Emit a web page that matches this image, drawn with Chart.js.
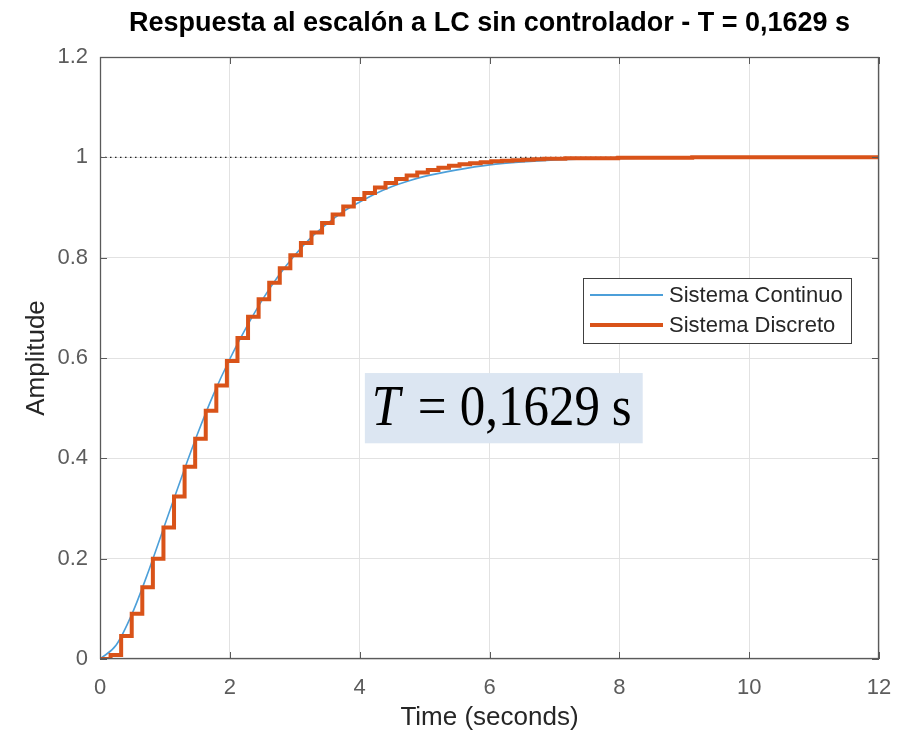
<!DOCTYPE html>
<html><head><meta charset="utf-8">
<script src="https://cdn.jsdelivr.net/npm/chart.js@4.4.1/dist/chart.umd.min.js"></script>
<style>html,body{margin:0;padding:0;background:#fff;}#wrap{width:901px;height:733px;position:relative;}</style>
</head><body><div id="wrap"><canvas id="c" width="901" height="733"></canvas></div>
<script>
const chartTitle = 'Respuesta al escalón a LC sin controlador - T = 0,1629 s';
const xAxisLabel = 'Time (seconds)';
const yAxisLabel = 'Amplitude';
const seriesNames = ['Sistema Continuo', 'Sistema Discreto'];
const annotationParts = ['T', '=', '0,1629', 's'];
const sampleTime = 0.1629;
const endTime = 12;

const contTime = [0,0.25,0.5,0.75,1,1.25,1.5,1.75,2,2.25,2.5,2.75,3,3.25,3.5,3.75,4,4.25,4.5,4.75,5,5.5,6,6.5,7,7.5,8,9,10,11,12];
const contValues = [0,0.028,0.092,0.176,0.268,0.36,0.448,0.528,0.598,0.66,0.716,0.764,0.805,0.84,0.868,0.892,0.911,0.928,0.942,0.953,0.962,0.975,0.985,0.991,0.995,0.997,0.998,0.999,1,1,1];

const discValues = [0,0.008,0.046,0.090,0.143,0.200,0.262,0.324,0.383,0.439,0.495,0.545,0.594,0.640,0.682,0.717,0.750,0.779,0.805,0.829,0.850,0.869,0.886,0.902,0.917,0.929,0.940,0.949,0.957,0.964,0.970,0.975,0.979,0.983,0.986,0.988,0.990,0.992,0.993,0.994,0.995,0.996,0.997,0.997,0.998,0.998,0.998,0.998,0.998,0.999,0.999,0.999,0.999,0.999,0.999,0.999,1,1,1,1,1,1,1,1,1,1,1,1,1,1,1,1,1,1];

const steadyTime = [0, 12];
const steadyValues = [1, 1];

const xTicks = [0,2,4,6,8,10,12];
const xTickLabels = ['0','2','4','6','8','10','12'];
const yTicks = [0,0.2,0.4,0.6,0.8,1,1.2];
const yTickLabels = ['0','0.2','0.4','0.6','0.8','1','1.2'];

const SANS = '"Liberation Sans", Arial, Helvetica, sans-serif';
const SERIF = '"Liberation Serif", "Times New Roman", serif';

const contData = contTime.map((t, i) => ({x: t, y: contValues[i]}));
const discData = discValues.map((v, k) => ({x: k * sampleTime, y: v}));
discData.push({x: endTime, y: discValues[discValues.length - 1]});
const steadyData = steadyTime.map((t, i) => ({x: t, y: steadyValues[i]}));

function labelFor(ticks, labels, v) {
  let best = 0;
  for (let i = 1; i < ticks.length; i++) if (Math.abs(ticks[i] - v) < Math.abs(ticks[best] - v)) best = i;
  return labels[best];
}

const decor = {
  id: 'decor',
  beforeDraw(chart) {
    const c = chart.ctx;
    c.save(); c.fillStyle = '#fff'; c.fillRect(0, 0, chart.width, chart.height); c.restore();
  },
  afterDatasetsDraw(chart) {
    const c = chart.ctx, a = chart.chartArea, xs = chart.scales.x, ys = chart.scales.y;
    c.save();
    c.strokeStyle = '#5a5a5a';
    c.lineWidth = 1;
    const tl = 7;
    c.beginPath();
    xTicks.forEach(v => {
      const px = Math.round(xs.getPixelForValue(v)) + 0.5;
      c.moveTo(px, a.bottom); c.lineTo(px, a.bottom - tl);
      c.moveTo(px, a.top); c.lineTo(px, a.top + tl);
    });
    yTicks.forEach(v => {
      const py = Math.round(ys.getPixelForValue(v)) + 0.5;
      c.moveTo(a.left, py); c.lineTo(a.left + tl, py);
      c.moveTo(a.right, py); c.lineTo(a.right - tl, py);
    });
    c.stroke();
    c.lineWidth = 1.3;
    c.strokeRect(Math.round(a.left) + 0.5, Math.round(a.top) + 0.5, Math.round(a.right - a.left) - 1, Math.round(a.bottom - a.top) - 1);
    c.restore();
  },
  afterDraw(chart) {
    const c = chart.ctx, a = chart.chartArea, xs = chart.scales.x, ys = chart.scales.y;
    c.save();
    // title
    c.fillStyle = '#000';
    c.font = 'bold 27px ' + SANS;
    c.textAlign = 'center';
    c.textBaseline = 'alphabetic';
    c.fillText(chartTitle, (a.left + a.right) / 2, 31);

    // annotation box (anchored in data coordinates)
    const bx0 = xs.getPixelForValue(4.08), bx1 = xs.getPixelForValue(8.36);
    const by0 = ys.getPixelForValue(0.570), by1 = ys.getPixelForValue(0.430);
    c.fillStyle = '#dce6f2';
    c.fillRect(bx0, by0, bx1 - bx0, by1 - by0);
    c.fillStyle = '#000';
    c.textAlign = 'left';
    const base = by0 + 52;
    const drawScaled = (txt, x, font) => {
      c.save(); c.translate(x, base); c.scale(1, 1.1); c.font = font; c.fillText(txt, 0, 0); c.restore();
    };
    drawScaled(annotationParts[0], bx0 + 7, 'italic 51px ' + SERIF);
    drawScaled(annotationParts[1], bx0 + 53, '51px ' + SERIF);
    drawScaled(annotationParts[2], bx0 + 95, '51px ' + SERIF);
    drawScaled(annotationParts[3], bx0 + 247, '51px ' + SERIF);

    // legend
    const lx = a.right - 296, ly = a.top + 221, lw = 268, lh = 65;
    c.fillStyle = '#fff';
    c.fillRect(lx, ly, lw, lh);
    c.strokeStyle = '#404040'; c.lineWidth = 1;
    c.strokeRect(Math.round(lx) + 0.5, Math.round(ly) + 0.5, lw, lh);
    const rows = [
      {name: seriesNames[0], color: '#4c9fd9', w: 2},
      {name: seriesNames[1], color: '#D95319', w: 4}
    ];
    rows.forEach((r, i) => {
      const yy = ly + 17 + i * 30;
      c.strokeStyle = r.color; c.lineWidth = r.w;
      c.beginPath(); c.moveTo(lx + 7, yy); c.lineTo(lx + 80, yy); c.stroke();
      c.fillStyle = '#262626';
      c.font = '22px ' + SANS;
      c.textBaseline = 'middle';
      c.fillText(r.name, lx + 86, yy + 1);
    });
    c.restore();
  }
};

new Chart(document.getElementById('c').getContext('2d'), {
  type: 'line',
  data: {
    datasets: [
      {label: seriesNames[1], data: discData, borderColor: '#D95319', borderWidth: 4, stepped: 'before', pointRadius: 0, order: 0, fill: false, borderJoinStyle: 'miter'},
      {label: seriesNames[0], data: contData, borderColor: '#4c9fd9', borderWidth: 1.6, pointRadius: 0, order: 1, fill: false, cubicInterpolationMode: 'monotone'},
      {label: 'steady', data: steadyData, borderColor: '#222', borderWidth: 1.4, borderDash: [1.5, 3.5], pointRadius: 0, order: 2, fill: false}
    ]
  },
  options: {
    animation: false,
    responsive: false,
    devicePixelRatio: 1,
    layout: {padding: {top: 57, right: 22, left: 0, bottom: 0}},
    plugins: {legend: {display: false}, tooltip: {enabled: false}, title: {display: false}},
    scales: {
      x: {
        type: 'linear', min: 0, max: 12,
        afterBuildTicks: s => { s.ticks = xTicks.map(v => ({value: v})); },
        afterFit: s => { s.height = 74; s.paddingLeft = 0; s.paddingRight = 0; },
        grid: {color: '#e2e2e2', lineWidth: 1, drawTicks: false},
        border: {display: false},
        ticks: {padding: 16, color: '#5c5c5c', font: {size: 22, family: SANS}, maxRotation: 0, autoSkip: false,
          callback: v => labelFor(xTicks, xTickLabels, v)},
        title: {display: true, text: xAxisLabel, color: '#262626', font: {size: 26, family: SANS}, padding: {top: 0, bottom: 0}}
      },
      y: {
        type: 'linear', min: 0, max: 1.2,
        afterBuildTicks: s => { s.ticks = yTicks.map(v => ({value: v})); },
        afterFit: s => { s.width = 100; s.paddingTop = 0; s.paddingBottom = 0; },
        grid: {color: '#e2e2e2', lineWidth: 1, drawTicks: false},
        border: {display: false},
        ticks: {padding: 12, color: '#5c5c5c', font: {size: 22, family: SANS}, autoSkip: false,
          callback: v => labelFor(yTicks, yTickLabels, v)},
        title: {display: true, text: yAxisLabel, color: '#262626', font: {size: 26, family: SANS}, padding: {top: 21, bottom: 0}}
      }
    }
  },
  plugins: [decor]
});
</script>
</body></html>
